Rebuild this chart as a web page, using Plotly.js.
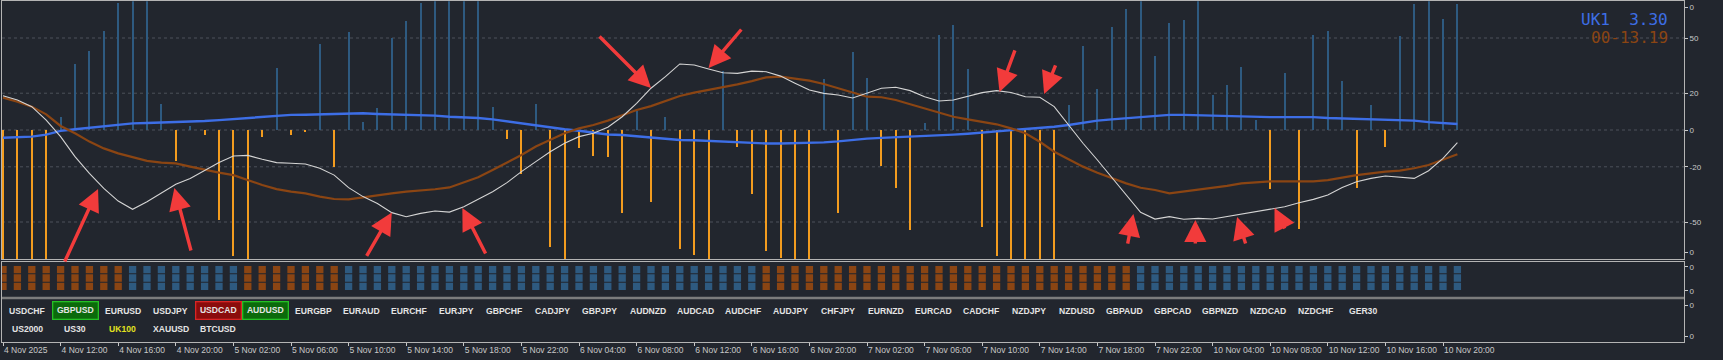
<!DOCTYPE html>
<html>
<head>
<meta charset="utf-8">
<script src="https://cdn.plot.ly/plotly-3.0.1.min.js"></script>
<style>
html,body{margin:0;padding:0;background:#22262e;}
#chart{width:1723px;height:360px;}
</style>
</head>
<body>
<div id="chart"></div>
<script>
// ---------------- DATA (one value per H1 bar, 4 Nov 08:00 .. 10 Nov 21:00) ----------------
const histValues = [-75,-75,-75,-75,7,36,43,54,69,75,75,14,-17,2.3,-2.5,-49,-68.5,-75,-3.8,33.5,
  -2.5,-1,46.7,-20,53,4.2,12,50,59,69,75,75,75,75,12.5,-4.9,-24,14,-63.7,-75,
  -10,-14,-14.5,-45,10.3,-39,7,-64.5,-68,-75,32,-9,-35,-66,-69.4,-75,-75,27.7,-45,42.6,
  28.3,-19.4,-31.7,-54.3,3.6,51.8,57,33,-52.9,-68.5,-75,-75,-75,-75,13.4,45.8,22.3,56,66,75,
  40,58,59.6,75,18.8,24.3,34,5.3,-32.2,31,-54,51.6,53.6,26.8,-31.4,13.4,-9.2,51,68.3,75,
  60.3,68.3];

const blueLine = [-4.2,-4,-3.6,-2.5,-0.5,0.4,1.3,2.2,3.1,3.6,3.8,4,4.3,4.6,4.9,5.4,6,6.5,7.1,7.6,
  8.2,8.3,8.6,8.9,9.2,9.1,8.7,8.5,8.3,8.1,7.8,7.2,6.9,6.5,5.8,4.7,3.3,2.2,1.3,0.4,
  -0.4,-1.6,-2.4,-2.7,-3.4,-4.2,-4.7,-5.4,-5.6,-6,-6.4,-6.9,-7.2,-7.3,-7.3,-7.2,-7,-6.7,-6.2,-5.4,
  -4.7,-4.3,-4,-3.6,-3.2,-2.9,-2.5,-2,-1.4,-0.9,-0.4,0.2,0.9,1.8,2.7,4,5.1,5.8,6.5,7.2,
  7.8,8.2,8.2,8,7.6,7.4,7.1,7,7,7,7,7,6.5,6.3,6.2,6,5.6,5.3,5.1,4.3,
  3.6,3.30];

const brownLine = [17.6,15.4,12.7,8.5,2.2,-1.8,-6.3,-10,-12.7,-14.9,-16.8,-17.7,-18.1,-19.9,-21.7,-23.2,-24.5,-27.2,-29.9,-32.1,
  -33.5,-34.4,-36.2,-37.5,-37.7,-36.6,-35.3,-34.4,-33.5,-33,-32.2,-31.2,-28.6,-25.7,-21.7,-17.7,-13.6,-9,-5.4,-1.8,
  0.9,2.7,5.1,8.2,10.9,13,15.8,18.5,20.3,21.7,23.2,24.8,26.6,28.6,29,27.7,26.8,25,22.7,20.3,
  18.1,17.8,16.3,14,11.8,9.4,7.2,5.8,4.5,3.1,0.9,-1.8,-6.4,-11.8,-15.9,-19.9,-23.2,-26.3,-29,-31.4,
  -32.6,-34.4,-33.5,-32.6,-31.7,-30.4,-29,-28.3,-27.9,-27.9,-27.9,-27.9,-27.2,-25.7,-24.5,-23.6,-22.6,-22.1,-20.8,-19,
  -16.3,-13.19];

const whiteLine = [18.6,16.3,12.7,5.4,-3.6,-14.5,-23.6,-31.7,-38.6,-43.1,-39,-34.4,-29.5,-26.3,-22.1,-17.7,-14.1,-13.8,-15.9,-17.7,
  -18.1,-18.5,-20.8,-24.5,-31.3,-36.2,-39.9,-44.9,-47.1,-45.3,-44,-44.6,-41.7,-37.7,-33.5,-28.6,-22.6,-17.2,-11.8,-7.2,
  -3.6,-1.8,1.5,7.2,14.5,22.7,29,35.9,35.3,33.2,31.1,30.8,32,31.7,29.3,25.4,21.7,19.9,19,17.4,
  19.9,22.7,23.2,21.4,18.1,15.8,16.3,18.1,20.3,21.4,20.4,18.1,17.8,12.7,2.7,-7.2,-16.3,-25.9,-35.3,-44.7,
  -48.4,-47.1,-48.5,-48,-48.4,-47.1,-45.8,-44.7,-43.1,-41.7,-39.5,-37.7,-35.3,-31.2,-28.1,-26.3,-25,-25.7,-26.3,-22.1,
  -15.4,-6.9];

// trend state per bar: 1 = bearish (brown), 0 = bullish (blue)
const trendState = [1,1,1,1,1,1,1,1,1,0,0,0,0,0,0,0,0,1,1,1,
  1,1,1,1,0,0,0,0,0,0,0,0,0,0,0,0,0,0,0,0,
  0,0,0,0,0,0,0,0,0,0,0,0,0,1,1,1,1,1,1,1,
  1,1,1,1,1,1,1,1,1,1,1,1,1,1,1,1,1,1,1,0,
  0,0,0,0,0,0,0,0,0,0,0,0,0,0,0,0,0,0,0,0,
  0,0];

const timeTickIndex = [0,4,8,12,16,20,24,28,32,36,40,44,48,52,56,60,64,68,72,76,80,84,88,92,96,100];
const timeTickLabels = ['4 Nov 2025','4 Nov 12:00','4 Nov 16:00','4 Nov 20:00','5 Nov 02:00','5 Nov 06:00',
  '5 Nov 10:00','5 Nov 14:00','5 Nov 18:00','5 Nov 22:00','6 Nov 04:00','6 Nov 08:00','6 Nov 12:00',
  '6 Nov 16:00','6 Nov 20:00','7 Nov 02:00','7 Nov 06:00','7 Nov 10:00','7 Nov 14:00','7 Nov 18:00',
  '7 Nov 22:00','10 Nov 04:00','10 Nov 08:00','10 Nov 12:00','10 Nov 16:00','10 Nov 20:00'];

const mainTickVals = [66.7, 50, 20, 0, -20, -50, -66.5];
const mainTickText = ['0','50','20','0','-20','-50','0'];
const gridLevels = [50, 20, 0, -20, -50];

const symbolsRow1 = ['USDCHF','GBPUSD','EURUSD','USDJPY','USDCAD','AUDUSD','EURGBP','EURAUD','EURCHF','EURJPY',
  'GBPCHF','CADJPY','GBPJPY','AUDNZD','AUDCAD','AUDCHF','AUDJPY','CHFJPY','EURNZD','EURCAD','CADCHF',
  'NZDJPY','NZDUSD','GBPAUD','GBPCAD','GBPNZD','NZDCAD','NZDCHF','GER30'];
const symbolsRow2 = ['US2000','US30','UK100','XAUUSD','BTCUSD'];
const buySymbols = ['GBPUSD','AUDUSD'];
const sellSymbols = ['USDCAD'];
const activeSymbols = ['UK100'];

// arrows drawn on the chart: tip at (bar index, value), tail offset in px
const arrowTipBar = [6.6, 11.9, 27.0, 31.9, 45.0, 49.0, 69.2, 72.3, 78.5, 82.8, 85.7, 88.3];
const arrowTipVal = [-32.1, -31.5, -44.8, -42.4, 22.8, 33.7, 20.7, 19.6, -45.7, -48.9, -47.3, -42.4];
const arrowTailDx = [-34, 17, -26, 24, -53, 34, 16, 12, -6, 0, 9, 11];
const arrowTailDy = [74, 64, 45, 47, -53, -40, -43, -30, 31, 25, 28, 22];

// ---------------- BUILD ----------------
const W = 1723, H = 360;
const M = {l: 2, r: 39, t: 1, b: 18};
const PW = W - M.l - M.r, PH = H - M.t - M.b;
const pxX = px => (px - M.l) / PW;
const pxY = py => (H - M.b - py) / PH;

const idx = histValues.map((_, i) => i);
const C = {
  bg: '#22262e', frame: '#b4b4b4', grid: '#4c515a', text: '#c8c8c8',
  up: '#2e5a80', down: '#f39c1f', blue: '#3d6ee6', brown: '#8b4513', white: '#d4d4d4',
  sqBrown: '#8b4513', sqBlue: '#2e5a80'
};

const traces = [];
traces.push({
  type: 'bar', x: idx, y: histValues, base: 0, width: 0.14,
  marker: {color: histValues.map(v => v >= 0 ? C.up : C.down), line: {width: 0}},
  xaxis: 'x', yaxis: 'y', hoverinfo: 'skip'
});
traces.push({type: 'scatter', mode: 'lines', x: idx, y: blueLine, line: {color: C.blue, width: 2.4}, xaxis: 'x', yaxis: 'y'});
traces.push({type: 'scatter', mode: 'lines', x: idx, y: brownLine, line: {color: C.brown, width: 2.2}, xaxis: 'x', yaxis: 'y'});
traces.push({type: 'scatter', mode: 'lines', x: idx, y: whiteLine, line: {color: C.white, width: 1.1}, xaxis: 'x', yaxis: 'y'});

[1, 2, 3].forEach(row => {
  traces.push({
    type: 'scatter', mode: 'markers', x: idx, y: idx.map(() => row),
    marker: {symbol: 'square', size: 7.3, color: trendState.map(s => s ? C.sqBrown : C.sqBlue), line: {width: 0}},
    xaxis: 'x2', yaxis: 'y2', hoverinfo: 'skip'
  });
});
// invisible trace to create panel 3
traces.push({type: 'scatter', mode: 'markers', x: [0], y: [0.5], marker: {opacity: 0}, xaxis: 'x3', yaxis: 'y3', hoverinfo: 'skip'});

const xRange = [(M.l - 3) / 14.4, (W - M.r - 3) / 14.4];
const axisCommon = {showgrid: false, zeroline: false, showline: true, mirror: true, linecolor: C.frame, linewidth: 1};

const layout = {
  width: W, height: H, margin: M,
  paper_bgcolor: C.bg, plot_bgcolor: C.bg, showlegend: false, bargap: 0,
  font: {family: 'Liberation Sans, Arial, sans-serif', color: C.text, size: 8},
  xaxis: Object.assign({}, axisCommon, {range: xRange, anchor: 'y', showticklabels: false, ticks: ''}),
  xaxis2: Object.assign({}, axisCommon, {matches: 'x', range: xRange, anchor: 'y2', showticklabels: false, ticks: ''}),
  xaxis3: Object.assign({}, axisCommon, {
    matches: 'x', range: xRange, anchor: 'y3', tickmode: 'array', tickvals: timeTickIndex, ticktext: timeTickLabels,
    ticks: 'outside', ticklen: 3, tickcolor: C.text, ticklabelposition: 'outside right', tickangle: 0,
    automargin: false,
    tickfont: {family: 'Liberation Sans, Arial, sans-serif', size: 8.5, color: C.text}
  }),
  yaxis: Object.assign({}, axisCommon, {
    domain: [pxY(259), pxY(1.3)], range: [-70.1, 69.95], side: 'right', anchor: 'x',
    tickmode: 'array', tickvals: mainTickVals, ticktext: mainTickText,
    ticks: 'outside', ticklen: 3, tickcolor: C.text, tickfont: {size: 8, color: C.text}
  }),
  yaxis2: Object.assign({}, axisCommon, {
    domain: [pxY(296.7), pxY(261.7)], range: [-0.25, 3.96], side: 'right', anchor: 'x2',
    tickmode: 'array', tickvals: [3.33, 0.47], ticktext: ['0', '0'],
    ticks: 'outside', ticklen: 3, tickcolor: C.text, tickfont: {size: 8, color: C.text}
  }),
  yaxis3: Object.assign({}, axisCommon, {
    domain: [0, pxY(299.3)], range: [0, 1], side: 'right', anchor: 'x3',
    tickmode: 'array', tickvals: [0.866, 0.134], ticktext: ['0', '0'],
    ticks: 'outside', ticklen: 3, tickcolor: C.text, tickfont: {size: 8, color: C.text}
  }),
  shapes: [],
  annotations: []
};

gridLevels.forEach(v => {
  layout.shapes.push({type: 'line', xref: 'x domain', yref: 'y', x0: 0, x1: 1, y0: v, y1: v,
    line: {color: C.grid, width: 1, dash: '3px,3px'}, layer: 'below'});
});
// grey separator between the two lower panels
layout.shapes.push({type: 'rect', xref: 'paper', yref: 'paper', x0: 0, x1: 1, y0: pxY(299.3), y1: pxY(296.7),
  fillcolor: '#7c7c7c', line: {width: 0}});

// indicator value labels (top right)
const nb = '\u00a0';
layout.annotations.push({xref: 'paper', yref: 'paper', x: pxX(1670), y: pxY(20), xanchor: 'right', yanchor: 'middle',
  text: 'UK1' + nb + nb + blueLine[blueLine.length - 1].toFixed(2), showarrow: false,
  font: {family: 'DejaVu Sans Mono, monospace', size: 16, color: C.blue}});
layout.annotations.push({xref: 'paper', yref: 'paper', x: pxX(1670), y: pxY(37.5), xanchor: 'right', yanchor: 'middle',
  text: '00' + brownLine[brownLine.length - 1].toFixed(2), showarrow: false,
  font: {family: 'DejaVu Sans Mono, monospace', size: 16, color: C.brown}});

// symbol buttons
function addSymbol(sym, col, rowPy) {
  const a = {xref: 'paper', yref: 'paper', x: pxX(27.4 + 47.7 * col), y: pxY(rowPy), xanchor: 'center', yanchor: 'middle',
    text: sym, showarrow: false, font: {family: 'Liberation Sans, Arial, sans-serif', size: 8.6, color: '#e4e4e4', weight: 'bold'}};
  if (buySymbols.includes(sym)) {
    Object.assign(a, {bgcolor: '#0b6a0b', bordercolor: '#25c025', borderwidth: 1.3, borderpad: 1, width: 42, height: 14});
  } else if (sellSymbols.includes(sym)) {
    Object.assign(a, {bgcolor: '#8a0c0c', bordercolor: '#d82626', borderwidth: 1.3, borderpad: 1, width: 42, height: 14});
  } else if (activeSymbols.includes(sym)) {
    a.font.color = '#e2e21e';
  }
  layout.annotations.push(a);
}
symbolsRow1.forEach((s, i) => addSymbol(s, i, 310.7));
symbolsRow2.forEach((s, i) => addSymbol(s, i, 329.3));

// red arrows
arrowTipBar.forEach((b, i) => {
  layout.annotations.push({xref: 'x', yref: 'y', x: b, y: arrowTipVal[i], ax: arrowTailDx[i], ay: arrowTailDy[i],
    text: '', showarrow: true, arrowhead: 2, arrowsize: 1.3, arrowwidth: 3.4, arrowcolor: '#f23b3b', standoff: 0});
});

Plotly.newPlot('chart', traces, layout, {staticPlot: true, displayModeBar: false});
</script>
</body>
</html>
